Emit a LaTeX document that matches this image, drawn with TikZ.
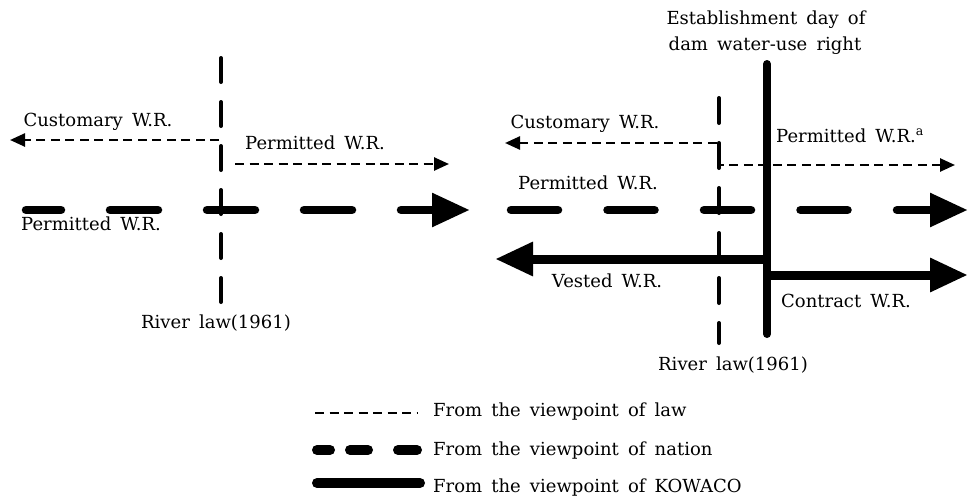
\documentclass[tikz,border=0pt]{standalone}
\usepackage{fontspec}
\setmainfont[WordSpace=1.6]{DejaVu Serif}
\usetikzlibrary{arrows.meta}
\tikzset{
  lawtip/.tip={Triangle[length=15pt,width=13pt]},
  bigtip/.tip={Triangle[length=38pt,width=32pt]}
}
\begin{document}
\begin{tikzpicture}[x=1pt,y=-1pt,
  lbl/.style={inner sep=0pt, anchor=base, font=\fontsize{18}{21}\selectfont},
  leg/.style={inner sep=0pt, anchor=base west, font=\fontsize{18}{21}\selectfont},
  lawline/.style={line width=2.5pt, dash pattern=on 9pt off 5.5pt},
  divider/.style={line width=4pt, line cap=round},
  nation/.style={line width=8.5pt, line cap=round},
  kowaco/.style={line width=9pt}]
\useasboundingbox (0,0) rectangle (973,503);
% ---------- left panel ----------
\coordinate (Ltop) at (221,58);
\coordinate (Lbot) at (221,302);
\draw[divider, dash pattern=on 24pt off 20pt] (Ltop) -- (Lbot);
\node[lbl] (Lriver) at (216,328) {River law(1961)};
\coordinate (Lcs) at (219,140);
\coordinate (Lce) at (10,140);
\draw[lawline, -lawtip] (Lcs) -- (Lce);
\node[lbl] (Lcust) at (98,126) {Customary W.R.};
\coordinate (Lps) at (235,164);
\coordinate (Lpe) at (449,164);
\draw[lawline, -lawtip] (Lps) -- (Lpe);
\node[lbl] (Lperm) at (315,149) {Permitted W.R.};
\coordinate (Lns) at (26,210);
\coordinate (Lne) at (470,210);
\draw[nation, dash pattern=on 48pt off 49pt, dash phase=13pt, -bigtip] (Lns) -- (Lne);
\node[lbl] (Lperm2) at (91,230) {Permitted W.R.};
% ---------- right panel ----------
\node[lbl] (Est1) at (766,25) {Establishment day of};
\node[lbl] (Est2) at (765,50) {dam water-use right};
\coordinate (Rtop) at (719,98);
\coordinate (Rbot) at (719,343);
\draw[divider, dash pattern=on 25pt off 20pt] (Rtop) -- (Rbot);
\coordinate (Rvt) at (767,64);
\coordinate (Rvb) at (767,334);
\draw[line width=8pt, line cap=round] (Rvt) -- (Rvb);
\coordinate (Rce) at (505,143);
\coordinate (Rc1) at (719,143);
\coordinate (Rc2) at (719,165);
\coordinate (Rpe) at (955,165);
\draw[lawline, lawtip-lawtip] (Rce) -- (Rc1) -- (Rc2) -- (Rpe);
\node[lbl] (Rcust) at (585,128) {Customary W.R.};
\node[lbl] (Rperm) at (850,142) {Permitted W.R.\textsuperscript{a}};
\coordinate (Rns) at (511,210);
\coordinate (Rne) at (968,210);
\draw[nation, dash pattern=on 47pt off 49.5pt, -bigtip] (Rns) -- (Rne);
\node[lbl] (Rperm2) at (588,189) {Permitted W.R.};
\coordinate (Rvs) at (767,259);
\coordinate (Rve) at (495,259);
\draw[kowaco, -bigtip] (Rvs) -- (Rve);
\node[lbl] (Rvest) at (607,287) {Vested W.R.};
\coordinate (Rks) at (763,275);
\coordinate (Rke) at (968,275);
\draw[kowaco, -bigtip] (Rks) -- (Rke);
\node[lbl] (Rcon) at (846,307) {Contract W.R.};
\node[lbl] (Rriver) at (733,370) {River law(1961)};
% ---------- legend ----------
\coordinate (La1) at (315,413);
\coordinate (La2) at (418,413);
\draw[lawline] (La1) -- (La2);
\node[leg] (Lega) at (433,416) {From the viewpoint of law};
\coordinate (Lb1) at (317,450);
\coordinate (Lb2) at (418,450);
\draw[line width=10pt, line cap=round, dash pattern=on 13pt off 20pt on 18pt off 30pt on 19pt off 100pt] (Lb1) -- (Lb2);
\node[leg] (Legb) at (433,455) {From the viewpoint of nation};
\coordinate (Lc1) at (317,483);
\coordinate (Lc2) at (420,483);
\draw[line width=10pt, line cap=round] (Lc1) -- (Lc2);
\node[leg] (Legc) at (433,492) {From the viewpoint of KOWACO};
\end{tikzpicture}
\end{document}
